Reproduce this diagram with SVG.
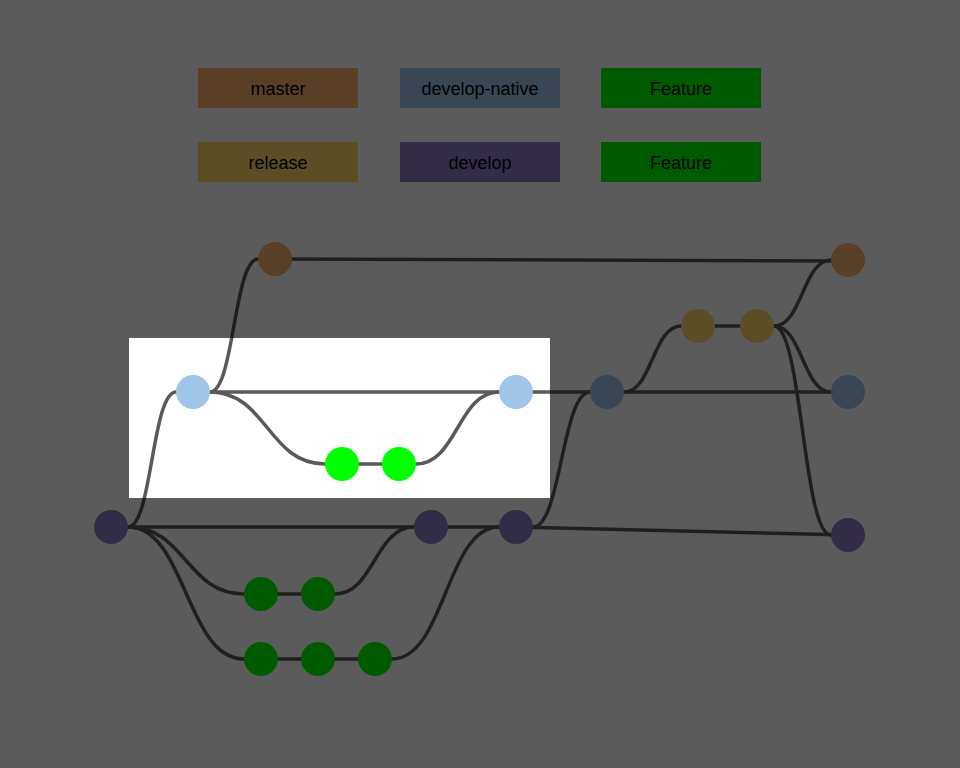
<svg xmlns="http://www.w3.org/2000/svg" width="960" height="768" viewBox="0 0 960 768">
<style>
.lbl{font-family:"Liberation Sans",Arial,sans-serif;font-size:18px;fill:#000;text-anchor:middle;dominant-baseline:central}
.c{fill:none;stroke:#595959;stroke-width:3.5}
.master{fill:#f6b26b}.native{fill:#9fc5e8}.feature{fill:#00ff00}.release{fill:#ffd966}.develop{fill:#8e7cc3}
</style>
<rect width="960" height="768" fill="#ffffff"/>
<g id="legend">
<g id="leg-master"><rect class="master" x="198" y="68" width="160" height="40"/><text class="lbl" x="278" y="89">master</text></g>
<g id="leg-native"><rect class="native" x="400" y="68" width="160" height="40"/><text class="lbl" x="480" y="89">develop-native</text></g>
<g id="leg-feature1"><rect class="feature" x="601" y="68" width="160" height="40"/><text class="lbl" x="681" y="89">Feature</text></g>
<g id="leg-release"><rect class="release" x="198" y="142" width="160" height="40"/><text class="lbl" x="278" y="163">release</text></g>
<g id="leg-develop"><rect class="develop" x="400" y="142" width="160" height="40"/><text class="lbl" x="480" y="163">develop</text></g>
<g id="leg-feature2"><rect class="feature" x="601" y="142" width="160" height="40"/><text class="lbl" x="681" y="163">Feature</text></g>
</g>
<g id="connectors">
<path class="c" d="M111,527 H128 C152,527 152,392 176,392 H193"/>
<path class="c" d="M193,392 H210 C234,392 234,259 258,259 H275"/>
<path class="c" d="M275,259 L848,261"/>
<path class="c" d="M193,392 H516"/>
<path class="c" d="M193,392 H210 C267,392 268,464 325,464 H399"/>
<path class="c" d="M399,464 H416 C457,464 458,392 499,392"/>
<path class="c" d="M516,392 H848"/>
<path class="c" d="M111,527 H516"/>
<path class="c" d="M516,527 L848,535"/>
<path class="c" d="M516,527 H533 C561,527 562,392 590,392"/>
<path class="c" d="M607,392 H624 C652,392 653,326 681,326 H757"/>
<path class="c" d="M757,326 H774 C802,326 803,260 831,260 H848"/>
<path class="c" d="M757,326 H774 C802,326 803,392 831,392"/>
<path class="c" d="M757,326 H774 C802,326 803,535 831,535 H848"/>
<path class="c" d="M111,527 H128 C186,527 186,594 244,594 H318"/>
<path class="c" d="M318,594 H335 C374,594 375,527 414,527"/>
<path class="c" d="M111,527 H128 C186,527 186,659 244,659 H375"/>
<path class="c" d="M375,659 H392 C445,659 446,527 499,527"/>
</g>
<g id="n-develop1"><circle class="develop" cx="111" cy="527" r="17"/></g>
<g id="n-master1"><circle class="master" cx="275" cy="259" r="17"/></g>
<g id="n-native1"><circle class="native" cx="193" cy="392" r="17"/></g>
<g id="n-native2"><circle class="native" cx="516" cy="392" r="17"/></g>
<g id="n-featA1"><circle class="feature" cx="342" cy="464" r="17"/></g>
<g id="n-featA2"><circle class="feature" cx="399" cy="464" r="17"/></g>
<g id="n-develop2"><circle class="develop" cx="431" cy="527" r="17"/></g>
<g id="n-develop3"><circle class="develop" cx="516" cy="527" r="17"/></g>
<g id="n-featB1"><circle class="feature" cx="261" cy="594" r="17"/></g>
<g id="n-featB2"><circle class="feature" cx="318" cy="594" r="17"/></g>
<g id="n-featC1"><circle class="feature" cx="261" cy="659" r="17"/></g>
<g id="n-featC2"><circle class="feature" cx="318" cy="659" r="17"/></g>
<g id="n-featC3"><circle class="feature" cx="375" cy="659" r="17"/></g>
<g id="n-native3"><circle class="native" cx="607" cy="392" r="17"/></g>
<g id="n-release1"><circle class="release" cx="698" cy="326" r="17"/></g>
<g id="n-release2"><circle class="release" cx="757" cy="326" r="17"/></g>
<g id="n-master2"><circle class="master" cx="848" cy="260" r="17"/></g>
<g id="n-native4"><circle class="native" cx="848" cy="392" r="17"/></g>
<g id="n-develop4"><circle class="develop" cx="848" cy="535" r="17"/></g>
<path id="overlay" fill="#000" fill-opacity="0.643" fill-rule="evenodd" d="M0,0 H960 V768 H0 Z M129,338 V498 H550 V338 Z"/>
</svg>
